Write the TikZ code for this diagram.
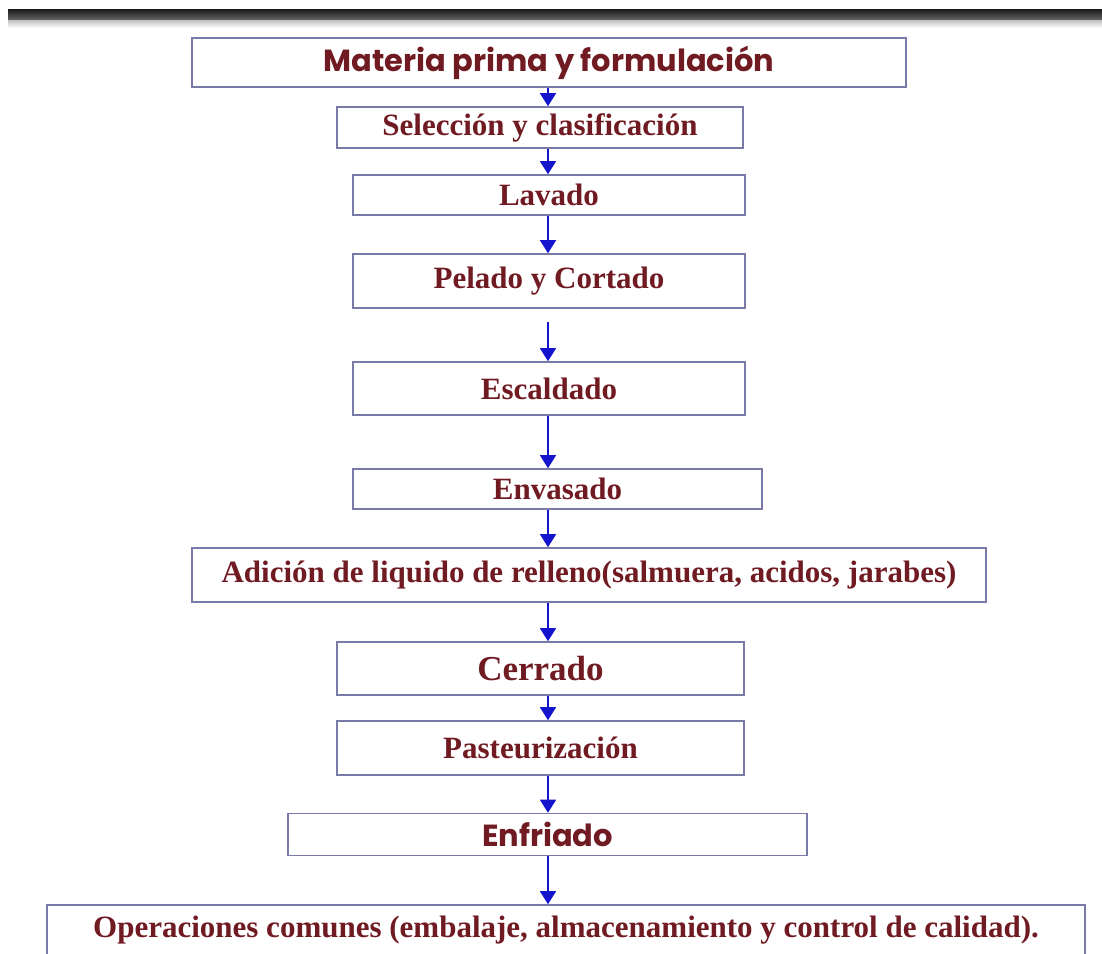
\documentclass[tikz,border=0pt]{standalone}
\usepackage{fontspec}
\setmainfont{Liberation Serif}
\newfontfamily\gothic{Poppins}
\usetikzlibrary{arrows.meta}
\definecolor{txt}{RGB}{112,26,34}
\definecolor{edge}{RGB}{122,122,168}
\definecolor{arr}{RGB}{20,20,205}
\begin{document}
\begin{tikzpicture}[x=1pt,y=-1pt,
  box/.style={draw=edge,line width=1.6pt,fill=white,inner sep=0pt,text=txt,
    font=\bfseries\fontsize{31}{36}\selectfont},
  gbox/.style={box,font=\gothic\bfseries\fontsize{30.5}{36}\selectfont},
  flow/.style={draw=arr,line width=1.5pt,-{Triangle[width=16pt,length=13pt,fill=arr]}}]
\fill[white] (0,0) rectangle (1102,953);
\useasboundingbox (0,0) rectangle (1102,953);
% top bar
\shade[top color=black!90,bottom color=black!60] (8,9) rectangle (1102,20);
\shade[top color=black!25,bottom color=white] (8,20) rectangle (1102,28);
% boxes
\node[gbox,minimum width=714pt,minimum height=49pt] (b1) at (549,62.5) {Materia prima y formulación};
\node[box,minimum width=406pt,minimum height=41pt] (b2) at (540,127.5) {Selección y clasificación};
\node[box,minimum width=392pt,minimum height=40pt] (b3) at (549,195) {Lavado};
\node[box,minimum width=392pt,minimum height=54pt] (b4) at (549,281) {Pelado y Cortado};
\node[box,minimum width=392pt,minimum height=53pt] (b5) at (549,388.5) {Escaldado};
\node[box,minimum width=409pt,minimum height=40pt] (b6) at (557.5,489) {Envasado};
\node[box,minimum width=794pt,minimum height=54pt] (b7) at (589,575) {Adición de liquido de relleno(salmuera, acidos, jarabes)};
\node[box,minimum width=407pt,minimum height=53pt,font=\bfseries\fontsize{35}{40}\selectfont] (b8) at (540.5,668.5) {Cerrado};
\node[box,minimum width=407pt,minimum height=54pt] (b9) at (540.5,748) {Pasteurización};
\node[gbox,minimum width=519pt,minimum height=42pt] (b10) at (547.5,834.5) {Enfriado};
\node[box,minimum width=1038pt,minimum height=50pt] (b11) at (566,930) {Operaciones comunes (embalaje, almacenamiento y control de calidad).};
% arrows
\coordinate (ax) at (548,0);
\coordinate (g45) at (548,322);
\draw[flow] (b1.south -| ax) -- (b2.north -| ax);
\draw[flow] (b2.south -| ax) -- (b3.north -| ax);
\draw[flow] (b3.south -| ax) -- (b4.north -| ax);
\draw[flow] (g45) -- (b5.north -| ax);
\draw[flow] (b5.south -| ax) -- (b6.north -| ax);
\draw[flow] (b6.south -| ax) -- (b7.north -| ax);
\draw[flow] (b7.south -| ax) -- (b8.north -| ax);
\draw[flow] (b8.south -| ax) -- (b9.north -| ax);
\draw[flow] (b9.south -| ax) -- (b10.north -| ax);
\draw[flow] (b10.south -| ax) -- (b11.north -| ax);
\end{tikzpicture}
\end{document}
